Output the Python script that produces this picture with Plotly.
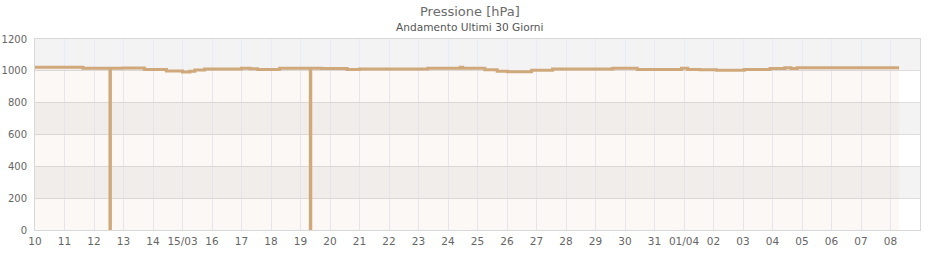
import plotly.graph_objects as go

# ---- data ----
times = [
    "2024-03-10 00:00", "2024-03-11 15:00", "2024-03-12 13:00", "2024-03-12 13:20",
    "2024-03-12 23:00", "2024-03-13 17:00", "2024-03-14 11:00", "2024-03-15 00:00",
    "2024-03-15 06:00", "2024-03-15 10:00", "2024-03-15 18:00", "2024-03-17 00:00",
    "2024-03-17 07:00", "2024-03-17 13:00", "2024-03-18 07:00", "2024-03-19 08:00",
    "2024-03-19 08:20", "2024-03-19 17:00", "2024-03-20 14:00", "2024-03-21 00:00",
    "2024-03-23 07:30", "2024-03-24 10:00", "2024-03-24 12:00", "2024-03-25 06:00",
    "2024-03-25 16:00", "2024-03-26 00:30", "2024-03-26 20:00", "2024-03-27 13:00",
    "2024-03-29 14:00", "2024-03-30 10:00", "2024-03-31 22:00", "2024-04-01 03:00",
    "2024-04-01 13:00", "2024-04-02 02:30", "2024-04-03 01:00", "2024-04-03 22:00",
    "2024-04-04 10:00", "2024-04-04 15:00", "2024-04-04 20:00", "2024-04-08 07:00",
]
pressure = [
    1022, 1016, 0, 1016,
    1018, 1009, 999, 992,
    997, 1005, 1011, 1016,
    1013, 1009, 1016, 0,
    1016, 1014, 1009, 1011,
    1016, 1022, 1016, 1007,
    997, 995, 1003, 1011,
    1016, 1009, 1016, 1009,
    1007, 1003, 1009, 1014,
    1020, 1014, 1020, 1020,
]

tick_dates = [
    "2024-03-10", "2024-03-11", "2024-03-12", "2024-03-13", "2024-03-14", "2024-03-15",
    "2024-03-16", "2024-03-17", "2024-03-18", "2024-03-19", "2024-03-20", "2024-03-21",
    "2024-03-22", "2024-03-23", "2024-03-24", "2024-03-25", "2024-03-26", "2024-03-27",
    "2024-03-28", "2024-03-29", "2024-03-30", "2024-03-31", "2024-04-01", "2024-04-02",
    "2024-04-03", "2024-04-04", "2024-04-05", "2024-04-06", "2024-04-07", "2024-04-08",
]
tick_labels = [
    "10", "11", "12", "13", "14", "15/03", "16", "17", "18", "19", "20", "21", "22",
    "23", "24", "25", "26", "27", "28", "29", "30", "31", "01/04", "02", "03", "04",
    "05", "06", "07", "08",
]
y_ticks = [0, 200, 400, 600, 800, 1000, 1200]
gray_bands = [(200, 400), (600, 800), (1000, 1200)]

title_text = "Pressione [hPa]"
subtitle_text = "Andamento Ultimi 30 Giorni"

LINE = "#cfa97b"
FONT = "DejaVu Sans"

fig = go.Figure()
fig.add_trace(go.Scatter(
    x=times, y=pressure, mode="lines", line=dict(color=LINE, width=3, shape="hv"),
    fill="tozeroy", fillcolor="rgba(208,169,123,0.08)", hoverinfo="x+y",
    showlegend=False,
))

shapes = []
for lo, hi in gray_bands:
    shapes.append(dict(type="rect", xref="paper", yref="y", x0=0, x1=1, y0=lo, y1=hi,
                       fillcolor="#f3f3f3", line=dict(width=0), layer="below"))
fig.update_layout(shapes=shapes)

fig.update_layout(
    width=940, height=260,
    margin=dict(l=35, r=20, t=39, b=30),
    paper_bgcolor="white", plot_bgcolor="white",
    font=dict(family=FONT, size=10, color="#666666"),
    annotations=[
        dict(text=title_text, xref="paper", yref="paper", x=(470 - 35) / 885, y=1,
             yanchor="middle", xanchor="center", yshift=28, showarrow=False,
             font=dict(family=FONT, size=13, color="#6b6b6b")),
        dict(text=subtitle_text, xref="paper", yref="paper", x=(469 - 35) / 885, y=1,
             yanchor="middle", xanchor="center", yshift=12, showarrow=False,
             font=dict(family=FONT, size=10.6, color="#555555")),
    ],
)
fig.update_xaxes(
    type="date", range=["2024-03-10 00:00", "2024-04-09 00:00"],
    tickvals=tick_dates, ticktext=tick_labels, tickangle=0,
    showgrid=True, gridcolor="#ebeaf7", gridwidth=1,
    showline=True, linecolor="#d8d8d8", linewidth=1, mirror=True,
    ticks="", zeroline=False, tickfont=dict(size=10.5, color="#666666"),
    automargin=False, ticklabelstandoff=1,
)
fig.update_yaxes(
    range=[0, 1200], tickvals=y_ticks,
    showgrid=True, gridcolor="#dedcdc", gridwidth=1,
    showline=True, linecolor="#d8d8d8", linewidth=1, mirror=True,
    ticks="", zeroline=False, tickfont=dict(size=10, color="#666666"),
    automargin=False, ticklabelstandoff=5,
)

fig.write_html("out.html")
